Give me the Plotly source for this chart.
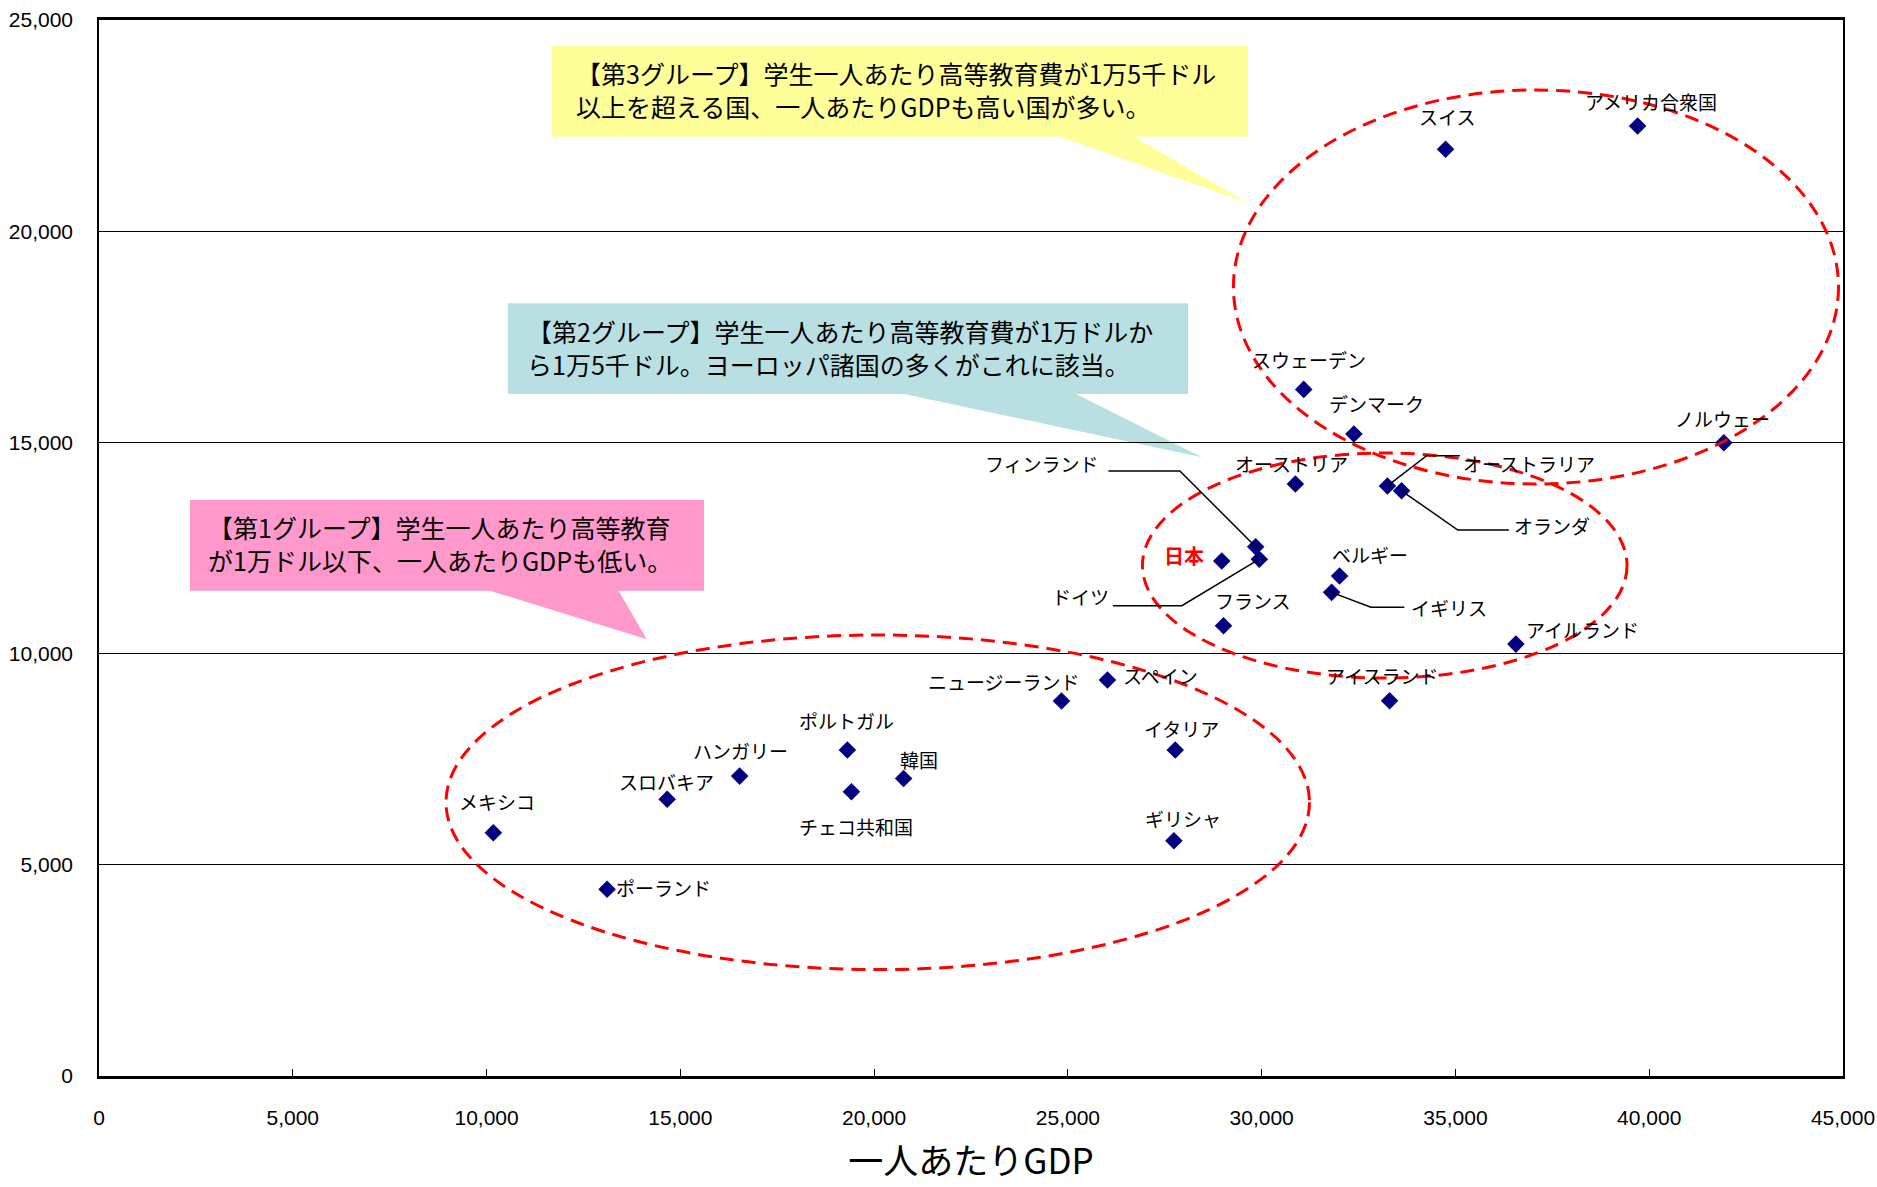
import plotly.graph_objects as go

# ---- data (per-capita GDP, higher-education spending per student, USD) ----
countries = ["メキシコ", "ポーランド", "スロバキア", "ハンガリー", "ポルトガル", "チェコ共和国",
             "韓国", "ニュージーランド", "スペイン", "イタリア", "ギリシャ", "日本", "フランス",
             "フィンランド", "ドイツ", "オーストリア", "スウェーデン", "デンマーク", "ベルギー",
             "イギリス", "オーストラリア", "オランダ", "アイスランド", "アイルランド", "スイス",
             "アメリカ合衆国", "ノルウェー"]
gdp = [10175, 13110, 14660, 16530, 19310, 19415, 20760, 24835, 26020, 27770, 27735, 28970,
       29015, 29845, 29940, 30870, 31085, 32380, 32010, 31805, 33245, 33610, 33300, 36560,
       34745, 39700, 41925]
spend = [5760, 4420, 6550, 7100, 7720, 6730, 7045, 8880, 9375, 7720, 5570, 12190, 10660,
         12530, 12235, 14015, 16255, 15200, 11835, 11450, 13970, 13855, 8885, 10225, 21940,
         22490, 14990]

# label centres (data units)
label_x = [10270, 14574, 14651, 16560, 19285, 19522, 21169, 23341, 27377, 27919, 27960, 27996,
           29768, 24332, 25333, 30770, 31234, 32950, 32785, 34834, 36898, 37486, 33105, 38266,
           34775, 40047, 41894]
label_y = [6494, 4467, 6967, 7701, 8411, 5902, 7497, 9335, 9470, 8232, 6091, 12334, 11269,
           14505, 11347, 14505, 16974, 15925, 12358, 11096, 14505, 13044, 9486, 10568, 22727,
           23082, 15570]

x_ticks = [0, 5000, 10000, 15000, 20000, 25000, 30000, 35000, 40000, 45000]
y_ticks = [0, 5000, 10000, 15000, 20000, 25000]
x_title = "一人あたりGDP"

callouts = [
    {"text": "【第3グループ】学生一人あたり高等教育費が1万5千ドル<br>以上を超える国、一人あたりGDPも高い国が多い。",
     "color": "#FFFF99", "box": (11689, 29648, 22237, 24384), "tail": (24797, 26706, 29632, 20675),
     "tx": 12249, "ty": 23343},
    {"text": "【第2グループ】学生一人あたり高等教育費が1万ドルか<br>ら1万5千ドル。ヨーロッパ諸国の多くがこれに該当。",
     "color": "#B8DFE1", "box": (10548, 28100, 16146, 18293), "tail": (20771, 25209, 28461, 14647),
     "tx": 10992, "ty": 17251},
    {"text": "【第1グループ】学生一人あたり高等教育<br>が1万ドル以下、一人あたりGDPも低い。",
     "color": "#FF99CC", "box": (2348, 15611, 11489, 13636), "tail": (10089, 13407, 14133, 10338),
     "tx": 2761, "ty": 12595},
]
ellipses = [(29271, 44884, 14015, 23343), (26923, 39427, 9422, 14749), (8954, 31234, 2519, 10440)]

# leader lines: elbow points (data units) from the label side to the point
leaders = {
    "フィンランド": [(26045, 14323), (27890, 14323)],
    "ドイツ": [(26161, 11134), (27941, 11134)],
    "オーストラリア": [(35114, 14685), (34257, 14685)],
    "オランダ": [(36378, 12926), (35062, 12926)],
    "イギリス": [(33682, 11096), (32818, 11096)],
}

CJK = "Noto Sans CJK JP, sans-serif"
NUM = "Liberation Sans Narrow, Arial Narrow, Liberation Sans, Arial, sans-serif"

fig = go.Figure()
fig.add_trace(go.Scatter(x=gdp, y=spend, mode="markers",
                         marker=dict(symbol="diamond", size=13.5, color="#000080"),
                         hovertext=countries, showlegend=False))

shapes = []
for c in callouts:
    x0, x1, yb, yt = c["box"]
    tl, tr, tipx, tipy = c["tail"]
    path = (f"M{x0},{yt} L{x1},{yt} L{x1},{yb} L{tr},{yb} L{tipx},{tipy} "
            f"L{tl},{yb} L{x0},{yb} Z")
    shapes.append(dict(type="path", path=path, xref="x", yref="y", fillcolor=c["color"],
                       line=dict(width=0), layer="below"))
for (x0, x1, y0, y1) in ellipses:
    shapes.append(dict(type="circle", xref="x", yref="y", x0=x0, x1=x1, y0=y0, y1=y1,
                       line=dict(color="#FF0000", width=3, dash="14px,8px"), layer="above"))
for name, pts in leaders.items():
    i = countries.index(name)
    allp = pts + [(gdp[i], spend[i])]
    path = "M" + " L".join(f"{px},{py}" for px, py in allp)
    shapes.append(dict(type="path", path=path, xref="x", yref="y",
                       line=dict(color="black", width=1.5)))

annotations = []
for c in callouts:
    annotations.append(dict(x=c["tx"], y=c["ty"], xref="x", yref="y", text=c["text"],
                            showarrow=False, xanchor="left", yanchor="middle", align="left",
                            font=dict(family=CJK, size=25, color="black")))
for name, lx, ly in zip(countries, label_x, label_y):
    if name == "日本":
        f = dict(family=CJK, size=20, color="#FF0000", weight="bold")
        t = "<b>日本</b>"
    else:
        f = dict(family=CJK, size=19, color="black")
        t = name
    annotations.append(dict(x=lx, y=ly, xref="x", yref="y", text=t, showarrow=False,
                            xanchor="center", yanchor="middle", font=f))

fig.update_layout(
    width=1877, height=1187,
    margin=dict(l=99, r=34, t=20, b=111),
    paper_bgcolor="white", plot_bgcolor="white",
    shapes=shapes, annotations=annotations,
    xaxis=dict(range=[0, 45000], tickvals=x_ticks, tickformat=",d", showgrid=False,
               zeroline=False, showline=True, linecolor="black", linewidth=3, mirror=True,
               ticks="inside", ticklen=7, tickcolor="black", tickwidth=1,
               ticklabelstandoff=21, automargin=False,
               tickfont=dict(family=NUM, size=21, color="black"),
               title=dict(text=x_title, font=dict(family=CJK, size=35, color="black"),
                          standoff=22)),
    yaxis=dict(range=[0, 25000], tickvals=y_ticks, tickformat=",d", showgrid=True,
               gridcolor="black", gridwidth=1, zeroline=False, showline=True,
               linecolor="black", linewidth=1.5, mirror=True, ticks="",
               ticklabelstandoff=20, automargin=False,
               tickfont=dict(family=NUM, size=21, color="black")),
)

fig.write_html("out.html")
